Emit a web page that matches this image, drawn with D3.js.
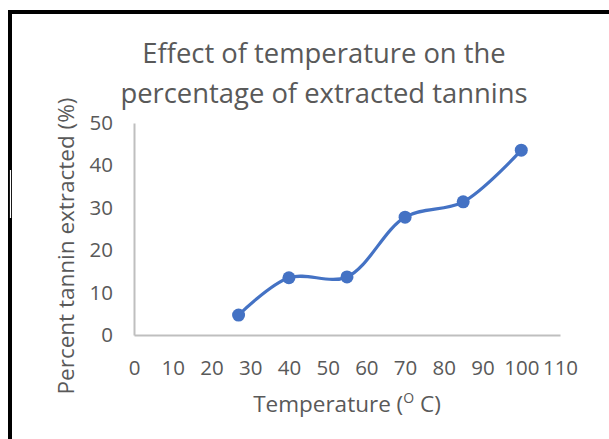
<!DOCTYPE html>
<html>
<head>
<meta charset="utf-8">
<script src="https://cdn.jsdelivr.net/npm/d3@7"></script>
<style>
  html, body { margin: 0; padding: 0; background: #fff; }
  svg { display: block; font-family: "Open Sans", sans-serif; }
</style>
</head>
<body>
<svg id="chart" width="609" height="439"></svg>
<script>
// Extraction temperature (°C) and share of tannins extracted (%)
const temperatures = [27, 40, 55, 70, 85, 100];
const tanninPercent = [4.7, 13.5, 13.7, 27.8, 31.4, 43.6];
const xTicks = [0, 10, 20, 30, 40, 50, 60, 70, 80, 90, 100, 110];
const yTicks = [0, 10, 20, 30, 40, 50];
const titleLines = ["Effect of temperature on the", "percentage of extracted tannins"];

const svg = d3.select("#chart");
const textColor = "#595959";
const axisColor = "#BFBFBF";
const lineColor = "#4472C4";

// frame of the chart area
svg.append("path")
  .attr("d", "M10,439 V12 H609")
  .attr("fill", "none")
  .attr("stroke", "#000")
  .attr("stroke-width", 4);
svg.append("line")
  .attr("x1", 10.5).attr("x2", 10.5)
  .attr("y1", 170).attr("y2", 218)
  .attr("stroke", "#fff").attr("stroke-width", 1.2);

const x = d3.scaleLinear().domain([0, 110]).range([134, 560]);
const y = d3.scaleLinear().domain([0, 50]).range([335, 123]);

// title
svg.append("g").selectAll("text")
  .data(titleLines)
  .join("text")
  .attr("x", 324)
  .attr("y", (d, i) => 63 + i * 40)
  .attr("text-anchor", "middle")
  .attr("fill", textColor)
  .attr("font-size", 27.4)
  .text(d => d);

// axes
const xAxis = svg.append("g")
  .attr("transform", `translate(0,${y(0)})`)
  .call(d3.axisBottom(x).tickValues(xTicks).tickSize(0).tickPadding(25));
xAxis.select(".domain").attr("stroke", axisColor).attr("stroke-width", 2);
xAxis.selectAll("text").attr("fill", textColor).attr("font-size", 20.5)
  .attr("font-family", "Open Sans, sans-serif");

const yAxis = svg.append("g")
  .attr("transform", `translate(${x(0)},0)`)
  .call(d3.axisLeft(y).tickValues(yTicks).tickSize(0).tickPadding(21));
yAxis.select(".domain").attr("stroke", axisColor).attr("stroke-width", 2);
yAxis.selectAll("text").attr("fill", textColor).attr("font-size", 20.5)
  .attr("font-family", "Open Sans, sans-serif");

// axis titles
const xTitle = svg.append("text")
  .attr("x", 347).attr("y", 412)
  .attr("text-anchor", "middle")
  .attr("fill", textColor)
  .attr("font-size", 22.5);
xTitle.append("tspan").text("Temperature (");
xTitle.append("tspan").attr("baseline-shift", "super").attr("font-size", 14).text("O");
xTitle.append("tspan").text(" C)");

svg.append("text")
  .attr("transform", "translate(74,246) rotate(-90)")
  .attr("text-anchor", "middle")
  .attr("fill", textColor)
  .attr("font-size", 22.5)
  .text("Percent tannin extracted (%)");

// series
const pts = temperatures.map((t, i) => [t, tanninPercent[i]]);
svg.append("path")
  .datum(pts)
  .attr("fill", "none")
  .attr("stroke", lineColor)
  .attr("stroke-width", 3.2)
  .attr("stroke-linecap", "round")
  .attr("d", d3.line().x(d => x(d[0])).y(d => y(d[1])).curve(d3.curveCatmullRom.alpha(0.5)));

svg.append("g").selectAll("circle")
  .data(pts)
  .join("circle")
  .attr("cx", d => x(d[0]))
  .attr("cy", d => y(d[1]))
  .attr("r", 6.5)
  .attr("fill", lineColor);
</script>
</body>
</html>
